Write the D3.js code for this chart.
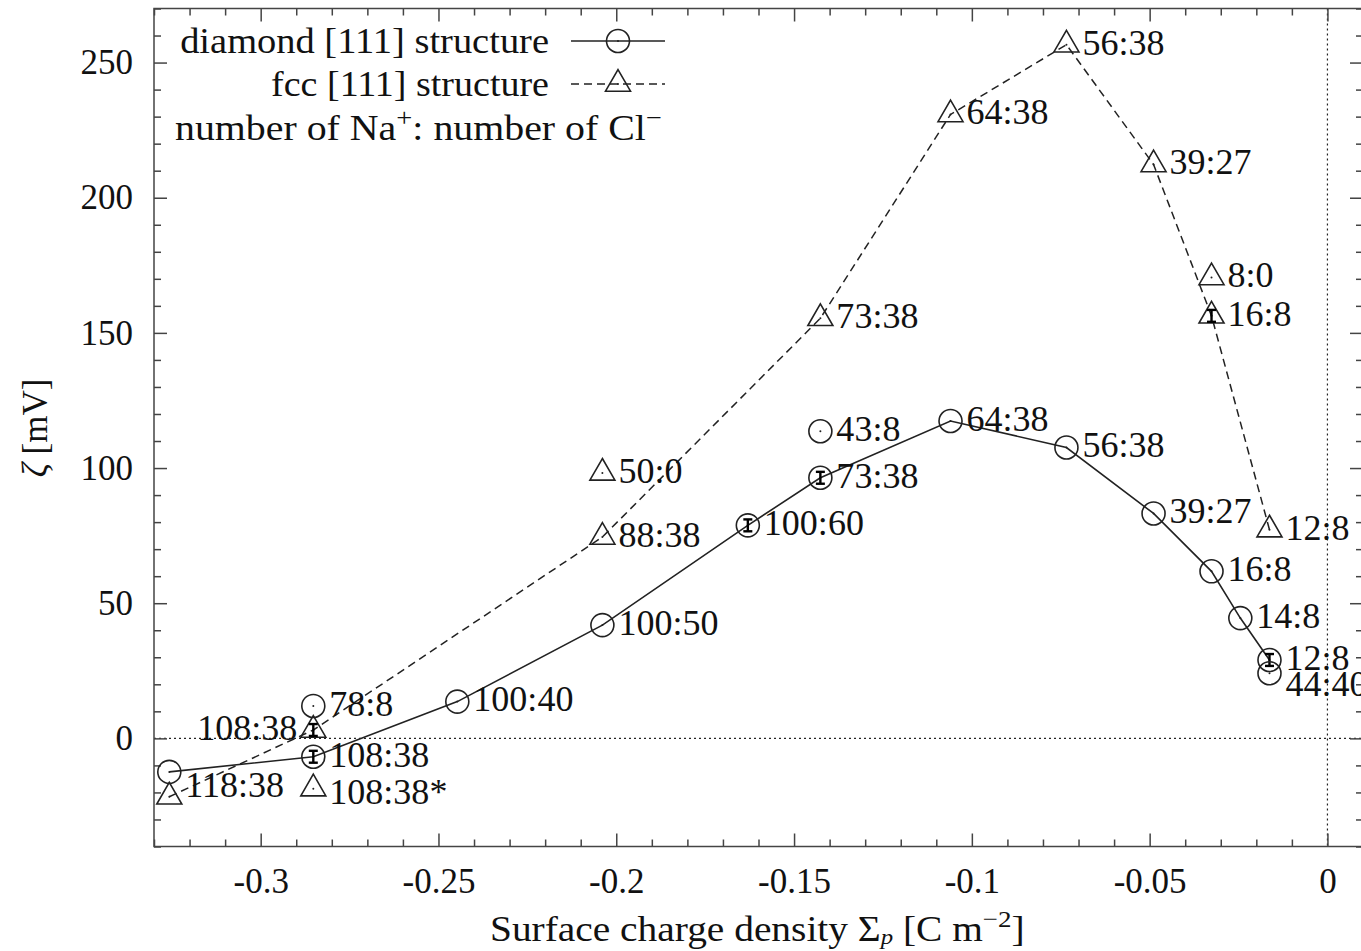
<!DOCTYPE html>
<html>
<head>
<meta charset="utf-8">
<script src="https://cdn.jsdelivr.net/npm/d3@7"></script>
<style>
  html, body { margin: 0; padding: 0; background: #fff; }
  svg { display: block; }
  text { font-family: "Liberation Serif", "DejaVu Serif", serif; fill: #111; }
</style>
</head>
<body>
<svg id="chart" width="1361" height="951"></svg>
<script>
// Surface charge density (C m^-2) and zeta potential (mV)
const diamondX = [-0.3257, -0.2852, -0.2447, -0.2039, -0.1630, -0.1426, -0.1060, -0.0734, -0.0489, -0.0326, -0.0245, -0.0163];
const diamondY = [-12.4, -6.8, 13.6, 41.9, 78.8, 96.4, 117.4, 107.6, 83.2, 61.8, 44.5, 29.0];
const diamondErr = [0, 2.2, 0, 0, 2.2, 2.2, 0, 0, 0, 0, 0, 2.2];
const diamondLabels = ["118:38", "108:38", "100:40", "100:50", "100:60", "73:38", "64:38", "56:38", "39:27", "16:8", "14:8", "12:8"];

const fccX = [-0.3257, -0.2852, -0.2039, -0.1426, -0.1060, -0.0734, -0.0489, -0.0326, -0.0163];
const fccY = [-21.6, 3.1, 74.5, 155.4, 230.8, 256.6, 212.3, 156.3, 77.2];
const fccErr = [0, 2.2, 0, 0, 0, 0, 0, 2.2, 0];
const fccLabels = ["", "108:38", "88:38", "73:38", "64:38", "56:38", "39:27", "16:8", "12:8"];

// Single configurations shown without a connecting line
const extraCircleX = [-0.2852, -0.1426, -0.0163];
const extraCircleY = [12.0, 113.6, 24.1];
const extraCircleLabels = ["78:8", "43:8", "44:40"];

const extraTriangleX = [-0.2852, -0.2039, -0.0326];
const extraTriangleY = [-18.6, 98.2, 170.5];
const extraTriangleLabels = ["108:38*", "50:0", "8:0"];

const xTicks = [-0.3, -0.25, -0.2, -0.15, -0.1, -0.05, 0];
const xTickLabels = ["-0.3", "-0.25", "-0.2", "-0.15", "-0.1", "-0.05", "0"];
const yTicks = [0, 50, 100, 150, 200, 250];
const yTickLabels = ["0", "50", "100", "150", "200", "250"];

const svg = d3.select("#chart");
const L = 154, R = 1363, T = 8.5, B = 846.5;
const x = d3.scaleLinear().domain([-0.33, 0.01]).range([L, R]);
const y = d3.scaleLinear().domain([-40, 270]).range([B, T]);

const ink = "#222";
const axisCol = "#444";
const FS = 35;

// stretch a text horizontally to a given width, keeping its anchor point fixed
function fitWidth(sel, width, ax, ay) {
  const w = sel.node().getComputedTextLength();
  const s = width / w;
  sel.attr("transform", `translate(${ax},${ay}) scale(${s},1) translate(${-ax},${-ay})`);
}

// zero reference lines
svg.append("line").attr("x1", L).attr("x2", R).attr("y1", y(0)).attr("y2", y(0))
  .attr("stroke", ink).attr("stroke-width", 1.2).attr("stroke-dasharray", "2,3");
svg.append("line").attr("x1", x(0)).attr("x2", x(0)).attr("y1", T).attr("y2", B)
  .attr("stroke", ink).attr("stroke-width", 1.2).attr("stroke-dasharray", "2,3");

// axes: major and minor ticks pointing inward on all four sides
const minorX = d3.range(-33, 2).map(d => d / 100).filter(v => !xTicks.some(t => Math.abs(t - v) < 1e-9));
const minorY = d3.range(-40, 271, 10).filter(v => v % 50 !== 0);

function styleAxis(g) {
  g.select(".domain").remove();
  g.selectAll(".tick line").attr("stroke", axisCol).attr("stroke-width", 1.5);
  g.selectAll(".tick text").attr("font-size", FS).attr("fill", "#111")
    .attr("font-family", "'Liberation Serif', serif");
}

svg.append("g").attr("transform", `translate(0,${B})`)
  .call(d3.axisBottom(x).tickValues(xTicks).tickSize(-13).tickPadding(22)
    .tickFormat((d, i) => xTickLabels[i]))
  .call(styleAxis);
svg.append("g").attr("transform", `translate(0,${B})`)
  .call(d3.axisBottom(x).tickValues(minorX).tickSize(-7).tickFormat(""))
  .call(styleAxis);
svg.append("g").attr("transform", `translate(0,${T})`)
  .call(d3.axisTop(x).tickValues(xTicks).tickSize(-13).tickFormat(""))
  .call(styleAxis);
svg.append("g").attr("transform", `translate(0,${T})`)
  .call(d3.axisTop(x).tickValues(minorX).tickSize(-7).tickFormat(""))
  .call(styleAxis);

svg.append("g").attr("transform", `translate(${L},0)`)
  .call(d3.axisLeft(y).tickValues(yTicks).tickSize(-13).tickPadding(21)
    .tickFormat((d, i) => yTickLabels[i]))
  .call(styleAxis);
svg.append("g").attr("transform", `translate(${L},0)`)
  .call(d3.axisLeft(y).tickValues(minorY).tickSize(-7).tickFormat(""))
  .call(styleAxis);
svg.append("g").attr("transform", `translate(${R},0)`)
  .call(d3.axisRight(y).tickValues(yTicks).tickSize(-13).tickFormat(""))
  .call(styleAxis);
svg.append("g").attr("transform", `translate(${R},0)`)
  .call(d3.axisRight(y).tickValues(minorY).tickSize(-7).tickFormat(""))
  .call(styleAxis);

// frame
svg.append("rect").attr("x", L).attr("y", T).attr("width", R - L).attr("height", B - T)
  .attr("fill", "none").attr("stroke", axisCol).attr("stroke-width", 1.5);

// connecting lines
const zipD = diamondX.map((v, i) => ({ x: v, y: diamondY[i], e: diamondErr[i], label: diamondLabels[i] }));
const zipF = fccX.map((v, i) => ({ x: v, y: fccY[i], e: fccErr[i], label: fccLabels[i] }));
const line = d3.line().x(d => x(d.x)).y(d => y(d.y));

svg.append("path").datum(zipF).attr("d", line).attr("fill", "none")
  .attr("stroke", ink).attr("stroke-width", 1.5).attr("stroke-dasharray", "8,5");
svg.append("path").datum(zipD).attr("d", line).attr("fill", "none")
  .attr("stroke", ink).attr("stroke-width", 1.6);

// markers
const R_CIRC = 11.5, TRI_W = 25;
const triH = TRI_W * Math.sqrt(3) / 2;
function triPath(cx, cy) {
  return `M${cx},${cy - triH * 2 / 3}L${cx + TRI_W / 2},${cy + triH / 3}L${cx - TRI_W / 2},${cy + triH / 3}Z`;
}
function drawCircle(cx, cy) {
  svg.append("circle").attr("cx", cx).attr("cy", cy).attr("r", R_CIRC)
    .attr("fill", "none").attr("stroke", ink).attr("stroke-width", 1.6);
  svg.append("circle").attr("cx", cx).attr("cy", cy).attr("r", 1).attr("fill", ink);
}
function drawTriangle(cx, cy) {
  svg.append("path").attr("d", triPath(cx, cy))
    .attr("fill", "none").attr("stroke", ink).attr("stroke-width", 1.6);
  svg.append("circle").attr("cx", cx).attr("cy", cy).attr("r", 1).attr("fill", ink);
}
function drawErr(d) {
  if (!d.e) return;
  const cx = x(d.x), y0 = y(d.y - d.e), y1 = y(d.y + d.e);
  const g = svg.append("g").attr("stroke", "#000").attr("stroke-width", 2.4);
  g.append("line").attr("x1", cx).attr("x2", cx).attr("y1", y0).attr("y2", y1);
  g.append("line").attr("x1", cx - 4.5).attr("x2", cx + 4.5).attr("y1", y0).attr("y2", y0);
  g.append("line").attr("x1", cx - 4.5).attr("x2", cx + 4.5).attr("y1", y1).attr("y2", y1);
}

zipD.forEach(d => { drawCircle(x(d.x), y(d.y)); drawErr(d); });
zipF.forEach(d => { drawTriangle(x(d.x), y(d.y)); drawErr(d); });
extraCircleX.forEach((v, i) => drawCircle(x(v), y(extraCircleY[i])));
extraTriangleX.forEach((v, i) => drawTriangle(x(v), y(extraTriangleY[i])));

// point labels (Na+ : Cl- counts), placed to the right of each marker
const labelShift = { "d:118:38": [0, 15], "f:108:38": [-32, 0], "c:44:40": [0, 13], "t:108:38*": [0, 5] };
function drawLabel(key, text, vx, vy) {
  if (!text) return;
  const s = labelShift[key] || [0, 0];
  const left = s[0] < 0;
  const t = svg.append("text")
    .attr("x", x(vx) + (left ? s[0] + 16 : 16))
    .attr("y", y(vy) + s[1] - 2)
    .attr("dy", "0.34em")
    .attr("text-anchor", left ? "end" : "start")
    .attr("font-size", FS)
    .text(text);
  const ax = +t.attr("x");
  t.attr("transform", `translate(${ax},0) scale(1.03,1) translate(${-ax},0)`);
}
zipD.forEach(d => drawLabel("d:" + d.label, d.label, d.x, d.y));
zipF.forEach(d => drawLabel("f:" + d.label, d.label, d.x, d.y));
extraCircleX.forEach((v, i) => drawLabel("c:" + extraCircleLabels[i], extraCircleLabels[i], v, extraCircleY[i]));
extraTriangleX.forEach((v, i) => drawLabel("t:" + extraTriangleLabels[i], extraTriangleLabels[i], v, extraTriangleY[i]));

// legend
const lg = svg.append("g");
const lt1 = lg.append("text").attr("x", 549).attr("y", 41).attr("dy", "0.34em").attr("text-anchor", "end")
  .attr("font-size", FS).text("diamond [111] structure");
fitWidth(lt1, 369, 549, 41);
lg.append("line").attr("x1", 571).attr("x2", 665).attr("y1", 41).attr("y2", 41)
  .attr("stroke", ink).attr("stroke-width", 1.6);
drawCircle(618, 41);
const lt2 = lg.append("text").attr("x", 549).attr("y", 84).attr("dy", "0.34em").attr("text-anchor", "end")
  .attr("font-size", FS).text("fcc [111] structure");
fitWidth(lt2, 278, 549, 84);
lg.append("line").attr("x1", 571).attr("x2", 665).attr("y1", 84).attr("y2", 84)
  .attr("stroke", ink).attr("stroke-width", 1.5).attr("stroke-dasharray", "8,5");
drawTriangle(618, 84);
const ion = lg.append("text").attr("x", 175).attr("y", 128).attr("dy", "0.34em").attr("font-size", FS);
ion.append("tspan").text("number of Na");
ion.append("tspan").attr("dy", -14).attr("font-size", 25).text("+");
ion.append("tspan").attr("dy", 14).text(": number of Cl");
ion.append("tspan").attr("dy", -14).attr("font-size", 25).text("\u2212");
fitWidth(ion, 487, 175, 128);

// axis titles
const xt = svg.append("text").attr("x", 490).attr("y", 929).attr("dy", "0.34em")
  .attr("text-anchor", "start").attr("font-size", FS);
xt.append("tspan").text("Surface charge density \u03A3");
xt.append("tspan").attr("dy", 3).attr("font-size", 22).attr("font-style", "italic").text("p");
xt.append("tspan").attr("dy", -3).text(" [C m");
xt.append("tspan").attr("dy", -14).attr("font-size", 24).text("\u22122");
xt.append("tspan").attr("dy", 14).text("]");
fitWidth(xt, 535, 490, 929);

const yt = svg.append("text").attr("transform", "translate(35,428) rotate(-90)")
  .attr("dy", "0.34em").attr("text-anchor", "middle").attr("font-size", FS);
yt.append("tspan").attr("font-style", "italic").text("\u03B6");
yt.append("tspan").text(" [mV]");
</script>
</body>
</html>
